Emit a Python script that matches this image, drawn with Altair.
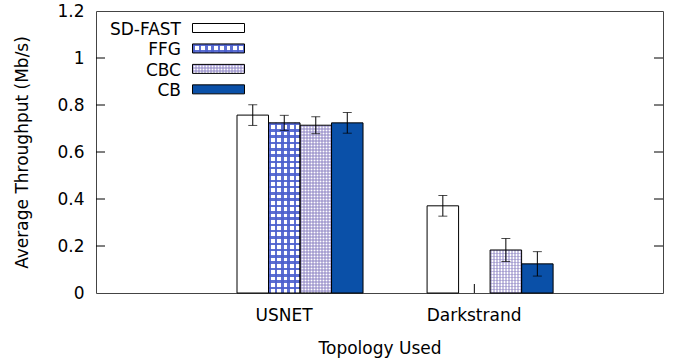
import altair as alt
import pandas as pd

# ---------------- data ----------------
topologies = ["USNET", "Darkstrand"]
series = ["SD-FAST", "FFG", "CBC", "CB"]
usnet_values = [0.757, 0.724, 0.714, 0.724]
usnet_errors = [0.044, 0.032, 0.036, 0.044]
darkstrand_values = [0.371, None, 0.183, 0.124]
darkstrand_errors = [0.044, None, 0.049, 0.052]
y_tick_values = [0, 0.2, 0.4, 0.6, 0.8, 1.0, 1.2]
inner_ticks = [0.2, 0.4, 0.6, 0.8, 1.0]

rows = []
for topo, vals, errs in [(topologies[0], usnet_values, usnet_errors),
                         (topologies[1], darkstrand_values, darkstrand_errors)]:
    for s, v, e in zip(series, vals, errs):
        if v is None:
            continue
        rows.append(dict(topology=topo, series=s, value=v,
                         lo=max(0.0, v - e), hi=v + e))
df = pd.DataFrame(rows)
tick_df = pd.DataFrame({"v": inner_ticks})
topo_df = pd.DataFrame({"topology": topologies})

# ---------------- style ----------------
W, H = 567, 282
FONT = "DejaVu Sans"
FS = 17
BLUE = "#0a50a8"
FFG_COL = "rgba(75,95,205,0.9)"
CBC_COL = "rgba(140,130,195,0.5)"
PX_PER_UNIT = H / 1.2
CLEAR = "rgba(255,255,255,0)"


def stripe_stops(n, color, frac):
    stops = []
    p = 1.0 / n
    i = 0
    while i * p < 1 - 1e-9:
        a = i * p
        b = min(1.0, a + frac * p)
        c = min(1.0, (i + 1) * p)
        stops += [{"offset": a, "color": color}, {"offset": b, "color": color},
                  {"offset": b, "color": CLEAR}, {"offset": c, "color": CLEAR}]
        i += 1
    return stops


def grad(n, color, frac, vertical_stripes):
    if vertical_stripes:
        return {"gradient": "linear", "x1": 0, "y1": 0, "x2": 1, "y2": 0,
                "stops": stripe_stops(n, color, frac)}
    return {"gradient": "linear", "x1": 0, "y1": 0, "x2": 0, "y2": 1,
            "stops": stripe_stops(n, color, frac)}


pattern = {"FFG": (FFG_COL, 6.3, 0.4), "CBC": (CBC_COL, 3.0, 0.5)}

xscale = alt.Scale(domain=topologies, paddingInner=0.337, paddingOuter=0.66, align=0.562)
xoffscale = alt.Scale(domain=series, paddingInner=0, paddingOuter=0)
yscale = alt.Scale(domain=[0, 1.2], nice=False, zero=True)

x_axis = alt.Axis(title="Topology Used", labelOffset=-16, ticks=False, domain=False,
                  labelAngle=0, labelFont=FONT, labelFontSize=FS, labelColor="black",
                  labelPadding=14, titleFont=FONT, titleFontSize=FS,
                  titleFontWeight="normal", titleColor="black", titlePadding=17)
X = alt.X("topology:N", scale=xscale, sort=topologies, axis=x_axis)
XO = alt.XOffset("series:N", scale=xoffscale, sort=series)
y_axis = alt.Axis(title="Average Throughput (Mb/s)", values=y_tick_values, format="~g",
                  ticks=False, domain=False, grid=False, labelFont=FONT,
                  labelFontSize=FS, labelColor="black", labelPadding=12,
                  titleFont=FONT, titleFontSize=FS, titleFontWeight="normal",
                  titleColor="black", titlePadding=25)
Y = alt.Y("value:Q", scale=yscale, axis=y_axis)

layers = []

# x ticks (inward), at the second bar of each cluster; drawn below the bars
layers.append(alt.Chart(topo_df).mark_rule(color="black", strokeWidth=1).encode(
    x=alt.X("topology:N", scale=xscale, sort=topologies, bandPosition=0.375, axis=x_axis),
    y=alt.value(H), y2=alt.value(H - 9)))

# base bar fills
layers.append(alt.Chart(df).mark_bar(strokeWidth=0).encode(
    x=X, xOffset=XO, y=Y,
    fill=alt.Fill("series:N", scale=alt.Scale(domain=series,
                  range=["white", "white", "white", BLUE]), legend=None)))

# pattern overlays
for _, r in df.iterrows():
    if r["series"] not in pattern:
        continue
    col, period, frac = pattern[r["series"]]
    bw = W / 2.983 * 0.663 / 4
    nx = bw / period
    ny = r["value"] * PX_PER_UNIT / period
    sel = (df["topology"] == r["topology"]) & (df["series"] == r["series"])
    sub = df[sel]
    for g in (grad(nx, col, frac, True), grad(ny, col, frac, False)):
        layers.append(alt.Chart(sub).mark_bar(fill=g, strokeWidth=0).encode(
            x=X, xOffset=XO, y=Y))

# bar outlines
layers.append(alt.Chart(df).mark_bar(fillOpacity=0, stroke="black", strokeWidth=1).encode(
    x=X, xOffset=XO, y=Y))

# error bars
layers.append(alt.Chart(df).mark_rule(color="black", strokeWidth=1).encode(
    x=X, xOffset=XO, y=alt.Y("lo:Q", scale=yscale), y2="hi:Q"))
layers.append(alt.Chart(df).mark_tick(color="black", thickness=1, size=9).encode(
    x=X, xOffset=XO, y=alt.Y("lo:Q", scale=yscale)))
layers.append(alt.Chart(df).mark_tick(color="black", thickness=1, size=9).encode(
    x=X, xOffset=XO, y=alt.Y("hi:Q", scale=yscale)))

# inward y ticks (left and right)
layers.append(alt.Chart(tick_df).mark_rule(color="black", strokeWidth=1).encode(
    y=alt.Y("v:Q", scale=yscale), x=alt.value(0), x2=alt.value(9)))
layers.append(alt.Chart(tick_df).mark_rule(color="black", strokeWidth=1).encode(
    y=alt.Y("v:Q", scale=yscale), x=alt.value(W - 9), x2=alt.value(W)))

# legend (drawn manually to allow patterned swatches)
one = alt.Data(values=[{"k": 1}])
for i, name in enumerate(series):
    cy = 17.8 + 20.45 * i
    layers.append(alt.Chart(one).mark_text(align="right", baseline="middle", font=FONT,
                                           fontSize=FS, color="black", text=name).encode(
        x=alt.value(85), y=alt.value(cy + 1.1)))
    sy0, sy1 = cy - 0.8 - 4.5, cy - 0.8 + 4.5
    sw = dict(x=alt.value(96.5), x2=alt.value(148.5), y=alt.value(sy0), y2=alt.value(sy1))
    base_fill = BLUE if name == "CB" else "white"
    layers.append(alt.Chart(one).mark_rect(fill=base_fill, strokeWidth=0).encode(**sw))
    if name in pattern:
        col, period, frac = pattern[name]
        for g in (grad(52 / period, col, frac, True), grad(9 / period, col, frac, False)):
            layers.append(alt.Chart(one).mark_rect(fill=g, strokeWidth=0).encode(**sw))
    layers.append(alt.Chart(one).mark_rect(fillOpacity=0, stroke="black",
                                           strokeWidth=1).encode(**sw))

chart = alt.layer(*layers).properties(
    width=W, height=H, autosize=alt.AutoSizeParams(type="none"),
    padding={"left": 96, "top": 11, "right": 14, "bottom": 65},
    background="white",
).configure_view(stroke="#444444", strokeWidth=1)

chart.save("out.html", embed_options={"renderer": "svg", "actions": False})
